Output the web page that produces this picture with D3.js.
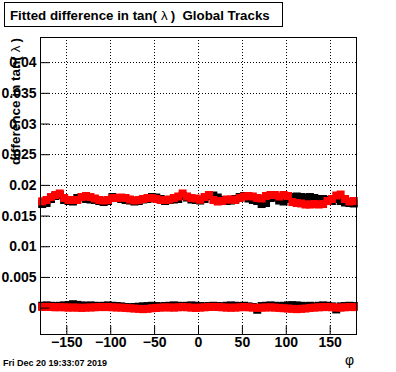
<!DOCTYPE html>
<html>
<head>
<meta charset="utf-8">
<script src="https://cdn.jsdelivr.net/npm/d3@7"></script>
<style>
  body { margin: 0; background: #fff; }
  text { font-family: "Liberation Sans", Arial, sans-serif; white-space: pre; }
</style>
</head>
<body>
<div id="chart"></div>
<script>
// bin centres in phi (5 degree bins)
var phiBins = d3.range(-177.5, 180, 5);

// fitted difference in tan(lambda), upper band
var upperBlack = [0.01688,0.01705,0.01770,0.01819,0.01835,0.01754,0.01737,0.01729,0.01786,0.01802,
  0.01770,0.01762,0.01754,0.01737,0.01721,0.01737,0.01802,0.01786,0.01770,0.01754,
  0.01745,0.01729,0.01737,0.01762,0.01770,0.01802,0.01794,0.01770,0.01737,0.01754,
  0.01762,0.01770,0.01819,0.01794,0.01762,0.01754,0.01745,0.01770,0.01819,0.01827,
  0.01794,0.01754,0.01737,0.01745,0.01770,0.01802,0.01819,0.01778,0.01754,0.01737,
  0.01688,0.01705,0.01786,0.01794,0.01745,0.01729,0.01770,0.01802,0.01811,0.01802,
  0.01794,0.01802,0.01786,0.01770,0.01770,0.01754,0.01737,0.01770,0.01737,0.01713,
  0.01705,0.01697];
var upperRed = [0.01732,0.01754,0.01802,0.01835,0.01860,0.01786,0.01754,0.01754,0.01754,0.01802,
  0.01819,0.01802,0.01778,0.01754,0.01745,0.01754,0.01786,0.01786,0.01794,0.01786,
  0.01762,0.01745,0.01754,0.01770,0.01786,0.01786,0.01770,0.01754,0.01754,0.01762,
  0.01786,0.01811,0.01860,0.01811,0.01786,0.01778,0.01758,0.01802,0.01835,0.01754,
  0.01729,0.01737,0.01762,0.01762,0.01754,0.01786,0.01811,0.01819,0.01811,0.01786,
  0.01778,0.01819,0.01835,0.01835,0.01811,0.01835,0.01819,0.01721,0.01705,0.01697,
  0.01680,0.01680,0.01688,0.01680,0.01688,0.01737,0.01770,0.01827,0.01843,0.01770,
  0.01729,0.01737];

// lower band, around zero
var lowerBlack = [0.00030,0.00035,0.00030,0.00025,0.00030,0.00035,0.00040,0.00055,0.00045,0.00035,
  0.00030,0.00035,0.00030,0.00025,0.00030,0.00035,0.00030,0.00025,0.00020,0.00010,
  0.00005,0.00010,0.00015,0.00020,0.00025,0.00030,0.00025,0.00020,0.00025,0.00030,
  0.00035,0.00030,0.00025,0.00030,0.00035,0.00030,0.00025,0.00020,0.00025,0.00030,
  0.00025,0.00020,0.00030,0.00035,0.00030,0.00025,0.00030,0.00020,0.00010,-0.00035,
  0.00025,0.00030,0.00035,0.00030,0.00025,0.00030,0.00035,0.00040,0.00035,0.00030,
  0.00025,0.00030,0.00020,0.00030,0.00035,0.00030,0.00020,-0.00030,0.00020,0.00025,
  0.00030,0.00025];
var lowerRed = [0.00010,0.00012,0.00010,0.00005,0.00008,0.00005,0.00000,0.00002,0.00000,-0.00005,
  0.00000,0.00002,0.00005,0.00010,0.00008,0.00010,0.00005,0.00002,0.00000,-0.00005,
  -0.00010,-0.00015,-0.00020,-0.00025,-0.00020,-0.00010,-0.00005,0.00000,0.00005,0.00002,
  0.00000,0.00005,0.00010,0.00005,0.00000,-0.00005,0.00000,0.00005,0.00010,0.00012,
  0.00010,0.00005,0.00000,-0.00002,0.00000,0.00005,0.00010,0.00005,0.00000,-0.00005,
  0.00000,0.00002,0.00005,0.00000,-0.00005,-0.00010,-0.00015,-0.00020,-0.00025,-0.00020,
  -0.00015,-0.00005,0.00000,0.00005,0.00008,0.00010,0.00005,0.00002,0.00000,0.00005,
  0.00010,0.00008];

var xTicks = [-150, -100, -50, 0, 50, 100, 150];
var yTicks = [0, 0.005, 0.01, 0.015, 0.02, 0.025, 0.03, 0.035, 0.04];

var W = 396, H = 372;
var frame = {left: 40, right: 356, top: 37, bottom: 334};

var svg = d3.select("#chart").append("svg")
    .attr("width", W).attr("height", H);
svg.append("rect").attr("width", W).attr("height", H).attr("fill", "#fff");

var x = d3.scaleLinear().domain([-180, 180]).range([frame.left, frame.right]);
var y = d3.scaleLinear().domain([-0.0043, 0.0441]).range([frame.bottom, frame.top]);

// grid
var grid = svg.append("g").attr("stroke", "#000").attr("stroke-width", 1)
    .attr("stroke-dasharray", "1,2");
grid.selectAll(".gx").data(xTicks).enter().append("line")
    .attr("x1", function(d) { return Math.round(x(d)) + 0.5; })
    .attr("x2", function(d) { return Math.round(x(d)) + 0.5; })
    .attr("y1", frame.top).attr("y2", frame.bottom);
grid.selectAll(".gy").data(yTicks).enter().append("line")
    .attr("y1", function(d) { return Math.round(y(d)) + 0.5; })
    .attr("y2", function(d) { return Math.round(y(d)) + 0.5; })
    .attr("x1", frame.left).attr("x2", frame.right);

// markers
function squares(vals, color, w, h) {
  svg.append("g").selectAll("rect").data(vals).enter().append("rect")
      .attr("x", function(d, i) { return x(phiBins[i]) - w / 2; })
      .attr("y", function(d) { return y(d) - h / 2; })
      .attr("width", w).attr("height", h)
      .attr("fill", color);
}
squares(upperBlack, "#000", 8, 8);
squares(upperRed, "#f00", 8, 8);
squares(lowerBlack, "#000", 8, 8);
squares(lowerRed, "#f00", 8, 8);

// frame
svg.append("rect")
    .attr("x", frame.left + 0.5).attr("y", frame.top + 0.5)
    .attr("width", frame.right - frame.left).attr("height", frame.bottom - frame.top)
    .attr("fill", "none").attr("stroke", "#000");

// axes (ticks drawn inwards)
var yMinor = d3.range(-0.004, 0.0445, 0.001);
var xMinor = d3.range(-180, 181, 10);

var gy = svg.append("g").attr("transform", "translate(" + (frame.left + 0.5) + ",0)");
gy.call(d3.axisLeft(y).tickValues(yMinor).tickSize(-5).tickFormat(""));
gy.call(d3.axisLeft(y).tickValues(yTicks).tickSize(-9).tickPadding(4)
    .tickFormat(function(d) { return d === 0 ? "0" : d3.format("")(+d.toFixed(3)); }));
gy.select(".domain").remove();
gy.selectAll("text").attr("font-size", "14px").attr("font-weight", "bold")
    .attr("font-family", "Liberation Sans, Arial, sans-serif").attr("fill", "#000");

var gx = svg.append("g").attr("transform", "translate(0," + (frame.bottom + 0.5) + ")");
gx.call(d3.axisBottom(x).tickValues(xMinor).tickSize(-4.5).tickFormat(""));
gx.call(d3.axisBottom(x).tickValues(xTicks).tickSize(-9).tickPadding(3));
gx.select(".domain").remove();
gx.selectAll("text").attr("font-size", "14px").attr("font-weight", "bold")
    .attr("font-family", "Liberation Sans, Arial, sans-serif").attr("fill", "#000");

// title box
svg.append("rect").attr("x", 4.5).attr("y", 2.5).attr("width", 278).attr("height", 24)
    .attr("fill", "#fff").attr("stroke", "#000");
var t = svg.append("text").attr("x", 10).attr("y", 19.5)
    .attr("font-size", "13.3px").attr("font-weight", "bold");
t.append("tspan").text("Fitted difference in tan(");
t.append("tspan").attr("dx", 4).attr("font-weight", "normal").text("λ");
t.append("tspan").attr("dx", 3).text(")\u00a0\u00a0Global Tracks");

// y axis title
var yt = svg.append("text").attr("transform", "translate(20,38) rotate(-90)")
    .attr("text-anchor", "end").attr("font-size", "13.5px").attr("font-weight", "bold");
yt.append("tspan").text("difference in tan(");
yt.append("tspan").attr("dx", 4).attr("font-weight", "normal").text("λ");
yt.append("tspan").attr("dx", 3).text(")");

// x axis title
svg.append("text").attr("x", 354).attr("y", 365).attr("text-anchor", "end")
    .attr("font-family", "DejaVu Serif, serif")
    .attr("font-size", "14px").text("φ");

// date stamp
svg.append("text").attr("x", 3).attr("y", 366)
    .attr("font-size", "9px").attr("font-weight", "bold").text("Fri Dec 20 19:33:07 2019");
</script>
</body>
</html>
